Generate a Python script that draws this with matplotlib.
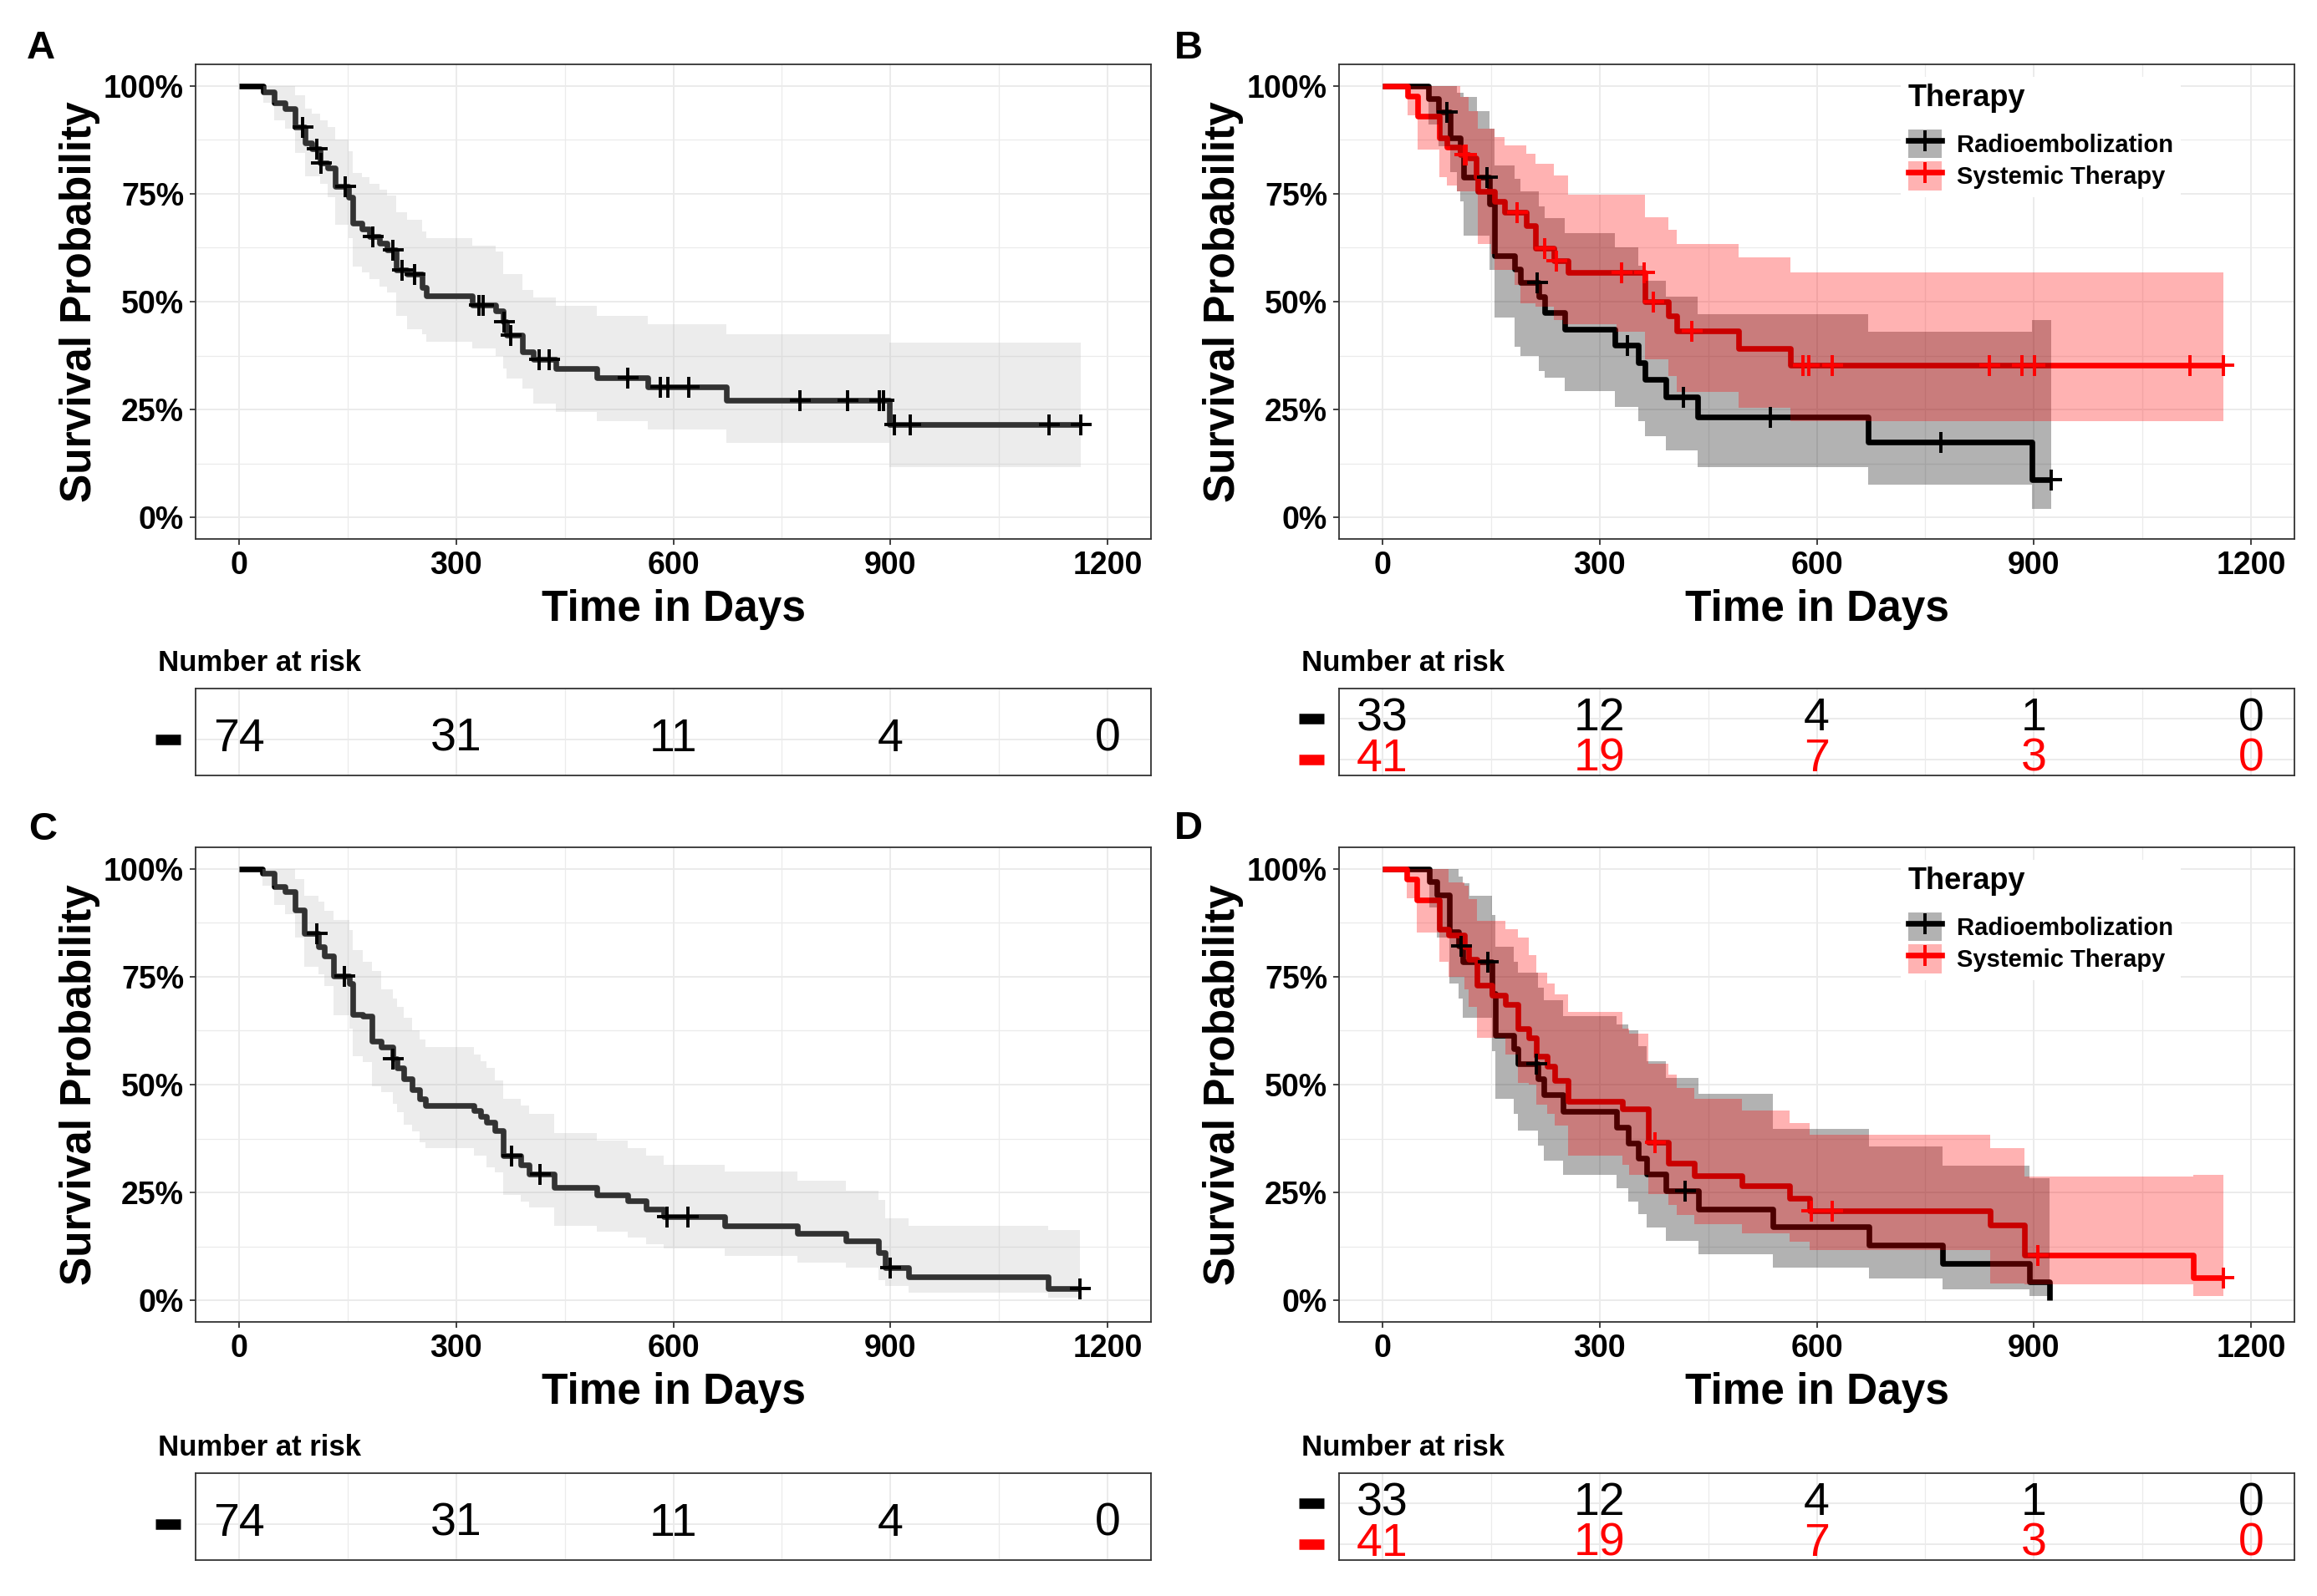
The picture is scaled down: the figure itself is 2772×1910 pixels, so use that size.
import numpy as np
from matplotlib import pyplot as plt
from matplotlib.lines import Line2D
from matplotlib.patches import Patch
from matplotlib.transforms import blended_transform_factory

plt.rcParams['font.family'] = ['Liberation Sans', 'DejaVu Sans']

# ---- panel A: all patients (overall survival) ----
a_time = [0, 33, 48, 63, 78, 91, 101, 112, 122, 133, 151, 157, 170, 180, 194, 204, 217, 232, 253, 259,
          322, 355, 365, 370, 392, 407, 438, 494, 565, 673, 898]
a_surv = [100, 98.6, 96.1, 94.8, 90.4, 86.7, 85.5, 82.1, 80.9, 76.7, 74.2, 68.3, 66.9, 65.1, 63.6, 62.1,
          57.4, 56.3, 53.2, 51.3, 49.3, 47.9, 45.4, 42.3, 38.4, 36.7, 34.6, 32.4, 30.3, 27.2, 21.6]
a_upper = [100, 100, 100, 100, 97.8, 94.8, 93.5, 92.0, 90.4, 87.6, 84.8, 79.8, 78.8, 77.4, 76.0, 74.6,
           70.7, 68.9, 66.2, 64.7, 63.0, 61.6, 56.3, 56.3, 52.8, 50.9, 49.1, 46.8, 44.7, 42.4, 40.5]
a_lower = [100, 96.1, 92.0, 90.0, 84.4, 79.1, 79.1, 77.4, 74.2, 67.9, 64.7, 58.1, 56.7, 55.3, 53.4, 52.1,
           46.8, 43.7, 42.4, 40.7, 39.1, 37.4, 34.6, 32.1, 29.8, 26.3, 24.5, 22.3, 20.3, 17.3, 11.7]
a_end = 1163
a_censor = [88, 107, 113, 147, 185, 213, 225, 242, 331, 337, 366, 375, 415, 428, 537, 582, 592, 621,
            775, 841, 885, 890, 905, 927, 1119, 1163]

# ---- panel C: all patients (second endpoint) ----
c_time = [0, 32, 49, 63, 78, 90, 110, 118, 131, 152, 157, 171, 184, 196, 213, 218, 228, 239, 249, 258,
          325, 334, 342, 353, 365, 389, 401, 435, 494, 537, 562, 587, 671, 772, 839, 883, 893, 925, 1118]
c_surv = [100, 98.9, 95.9, 94.7, 90.5, 85.1, 81.9, 79.8, 75.2, 73.5, 66.3, 65.8, 60.1, 58.8, 56.0, 53.8,
          51.4, 48.9, 46.8, 45.2, 44.0, 42.6, 41.2, 39.4, 33.5, 31.4, 29.3, 26.1, 24.4, 23.0, 21.2, 19.4,
          17.3, 15.6, 13.8, 11.0, 7.5, 5.4, 2.8]
c_upper = [100, 100, 100, 100, 97.7, 93.8, 92.4, 90.3, 88.2, 85.8, 81.2, 78.5, 76.3, 72.1, 70.0, 68.0,
           65.5, 62.6, 60.5, 58.7, 57.0, 55.5, 53.8, 51.0, 46.8, 45.1, 43.3, 38.7, 37.0, 35.2, 33.5, 31.5,
           29.8, 27.7, 25.5, 23.3, 19.1, 17.3, 16.3]
c_lower = [100, 96.1, 91.7, 89.6, 84.0, 77.3, 75.6, 72.8, 66.1, 62.9, 56.6, 55.2, 49.6, 48.2, 45.5, 43.6,
           40.8, 39.1, 36.6, 35.2, 33.5, 33.5, 30.8, 29.6, 24.4, 22.8, 21.5, 17.3, 15.9, 14.5, 13.1, 12.1,
           10.3, 8.8, 7.5, 4.7, 3.3, 1.8, 0.7]
c_end = 1162
c_censor = [108, 146, 213, 376, 416, 591, 620, 900, 1162]

# ---- panel B: by therapy ----
b_re_time = [0, 64, 77, 94, 103, 108, 112, 131, 148, 155, 182, 191, 216, 224, 252, 321, 353, 363, 391,
             435, 671, 897]
b_re_surv = [100, 97.0, 93.9, 87.9, 87.9, 84.8, 78.8, 78.8, 72.7, 60.6, 57.6, 54.5, 51.2, 47.5, 43.7,
             40.0, 35.9, 31.9, 27.9, 23.3, 17.5, 8.7]
b_re_upper = [100, 100, 100, 100, 98.5, 98.5, 97.4, 94.2, 90.0, 81.6, 78.4, 75.6, 72.1, 69.3, 65.8,
              62.6, 58.4, 54.9, 51.1, 47.0, 43.0, 45.8]
b_re_lower = [100, 91.0, 86.0, 80.0, 75.6, 73.2, 65.3, 65.3, 57.4, 46.3, 39.5, 37.5, 34.0, 32.4, 29.3,
              25.6, 22.4, 18.9, 15.6, 11.7, 7.5, 2.0]
b_re_end = 924
b_re_censor = [89, 144, 214, 338, 416, 536, 772, 924]

b_st_time = [0, 35, 49, 79, 89, 103, 108, 119, 129, 132, 150, 155, 169, 182, 191, 199, 211, 237, 250,
             256, 323, 363, 395, 406, 492, 564]
b_st_surv = [100, 97.6, 93.0, 87.9, 85.8, 85.8, 84.0, 83.4, 78.8, 75.6, 75.6, 73.2, 70.7, 70.7, 70.7,
             67.6, 62.3, 59.5, 59.5, 56.7, 56.7, 50.0, 46.8, 43.3, 39.1, 35.2]
b_st_upper = [100, 100, 100, 100, 100, 100, 97.4, 94.2, 94.2, 90.0, 90.0, 88.1, 86.2, 86.2, 86.2, 84.2,
              81.9, 79.3, 79.3, 74.8, 74.8, 69.5, 66.6, 63.3, 60.2, 56.7]
b_st_lower = [100, 93.2, 85.3, 78.8, 77.0, 75.6, 75.6, 75.6, 75.6, 63.3, 61.0, 57.4, 57.4, 53.9, 49.6,
              49.6, 48.9, 45.8, 44.7, 44.7, 43.0, 36.7, 32.8, 29.1, 25.4, 22.3]
b_st_end = 1162
b_st_censor = [113, 116, 186, 224, 240, 330, 361, 374, 427, 581, 589, 621, 838, 883, 901, 1116, 1162]

# ---- panel D: by therapy (second endpoint) ----
d_re_time = [0, 65, 75, 93, 105, 111, 120, 151, 156, 181, 187, 215, 223, 249, 323, 340, 353, 365, 391,
             437, 539, 672, 774, 894, 922]
d_re_surv = [100, 97.0, 93.9, 85.5, 82.2, 78.4, 78.4, 71.2, 61.5, 58.4, 54.9, 51.4, 47.6, 43.8, 40.1,
             36.5, 32.9, 29.3, 25.4, 21.2, 17.0, 12.8, 8.5, 4.3, 0.0]
d_re_upper = [100, 100, 100, 100, 98.2, 96.6, 93.8, 89.3, 82.0, 78.5, 76.0, 72.5, 69.5, 65.8, 64.0,
              62.6, 58.9, 55.5, 51.5, 47.9, 39.8, 35.6, 31.2, 28.4, 28.4]
d_re_lower = [100, 91.0, 84.0, 73.5, 70.0, 65.4, 65.4, 57.7, 46.8, 43.3, 39.4, 35.9, 32.4, 29.1, 25.9,
              22.8, 20.0, 16.8, 13.8, 10.7, 7.5, 5.1, 2.5, 1.1, 1.1]
d_re_end = 922
d_re_censor = [109, 145, 213, 418]

d_st_time = [0, 33, 47, 79, 91, 113, 119, 130, 151, 170, 187, 202, 213, 228, 238, 257, 331, 341, 367,
             395, 406, 431, 497, 562, 590, 840, 887, 1120]
d_st_surv = [100, 97.6, 92.8, 86.1, 84.7, 81.9, 79.1, 73.1, 70.7, 68.6, 62.9, 60.8, 56.6, 54.2, 51.0,
             46.1, 44.4, 44.4, 36.6, 31.7, 31.7, 28.8, 26.5, 23.6, 20.8, 17.5, 10.4, 5.2]
d_st_upper = [100, 100, 100, 100, 96.8, 96.0, 93.0, 87.9, 87.9, 86.1, 84.0, 80.1, 75.9, 73.5, 71.0,
              66.8, 63.0, 61.8, 54.9, 52.3, 49.3, 46.8, 44.0, 41.1, 38.4, 35.2, 28.7, 29.1]
d_st_lower = [100, 93.1, 85.2, 78.4, 75.0, 72.0, 68.0, 60.8, 60.8, 57.0, 50.3, 50.0, 45.4, 43.3, 40.5,
              33.5, 31.4, 29.0, 24.7, 22.2, 19.8, 17.7, 15.6, 13.5, 11.7, 4.0, 3.8, 1.0]
d_st_end = 1162
d_st_censor = [376, 592, 621, 905, 1162]

# ---- number at risk ----
risk_times = [0, 300, 600, 900, 1200]
risk_all = [74, 31, 11, 4, 0]
risk_re = [33, 12, 4, 1, 0]
risk_st = [41, 19, 7, 3, 0]

group_labels = ['Radioembolization', 'Systemic Therapy']

W, H = 2772, 1910
LEFT_X, RIGHT_X = 234, 1602
PLOT_W = 1143
GRID = '#ebebeb'
BORDER = '#333333'
LW = 4.8


def box(x0: float, y0: float, w: float, h: float) -> list:
    """pixel box (top-left origin) -> figure fraction rect"""
    return [x0 / W, 1 - (y0 + h) / H, w / W, h / H]


def style_axes(ax) -> None:
    ax.set_xlim(-60, 1260)
    ax.set_xticks(risk_times)
    ax.set_xticks([150, 450, 750, 1050], minor=True)
    ax.grid(True, which='major', color=GRID, lw=1.4, zorder=0)
    ax.grid(True, which='minor', color=GRID, lw=0.9, zorder=0)
    ax.set_axisbelow(True)
    for sp in ax.spines.values():
        sp.set_color(BORDER)
        sp.set_linewidth(1.3)


def draw_curve(ax, t, s, lo, hi, end, censor, line_c, fill_c, fill_a, mark_c) -> None:
    x = list(t) + [end]
    y = list(s) + [s[-1]]
    ax.step(x, y, where='post', color=line_c, lw=LW, zorder=3, solid_capstyle='butt')
    ax.fill_between(x, list(lo) + [lo[-1]], list(hi) + [hi[-1]], step='post',
                    color=fill_c, alpha=fill_a, lw=0, zorder=4)
    idx = np.searchsorted(t, censor, side='right') - 1
    ax.plot(censor, np.array(s)[idx], ls='none', marker='+', ms=18, mew=2.8,
            color=mark_c, zorder=5)


def km_axes(fig, x0: float, y0: float):
    ax = fig.add_axes(box(x0, y0, PLOT_W, 568))
    style_axes(ax)
    ax.set_ylim(-5, 105)
    ax.set_yticks([0, 25, 50, 75, 100])
    ax.set_yticks([12.5, 37.5, 62.5, 87.5], minor=True)
    ax.set_yticklabels([f'{v}%' for v in [0, 25, 50, 75, 100]])
    ax.tick_params(which='major', direction='out', length=5, width=1.3, color=BORDER,
                   labelsize=27, pad=5)
    ax.tick_params(which='minor', length=0)
    for lab in ax.get_xticklabels() + ax.get_yticklabels():
        lab.set_fontweight('bold')
    ax.set_xlabel('Time in Days', fontsize=37, fontweight='bold', labelpad=7)
    ax.set_ylabel('Survival Probability', fontsize=37, fontweight='bold', labelpad=3)
    return ax


def risk_table(fig, x0: float, y0: float, rows, colors) -> None:
    ax = fig.add_axes(box(x0, y0, PLOT_W, 104))
    style_axes(ax)
    n = len(rows)
    if n > 1:
        ax.set_ylim(0.6, 2.75)
    else:
        ax.set_ylim(0.54, 1.64)
    ax.set_yticks(range(1, n + 1))
    ax.tick_params(which='both', length=0, labelbottom=False, labelleft=False)
    trans = blended_transform_factory(ax.transAxes, ax.transData)
    for i, (vals, col) in enumerate(zip(rows, colors)):
        yy = n - i
        for tx, v in zip(risk_times, vals):
            ax.text(tx, yy, str(v), color=col, fontsize=40, ha='center', va='center')
        ax.plot([-0.042, -0.016], [yy, yy], color=col, lw=9, transform=trans,
                clip_on=False, solid_capstyle='butt')
    fig.text((x0 - 45) / W, 1 - (y0 - 31) / H, 'Number at risk', fontsize=25,
             fontweight='bold', ha='left', va='center')


def add_legend(ax) -> None:
    handles = [
        (Patch(facecolor='black', alpha=0.3, lw=0),
         Line2D([], [], color='black', lw=LW, marker='+', ms=18, mew=2.8)),
        (Patch(facecolor='red', alpha=0.3, lw=0),
         Line2D([], [], color='red', lw=LW, marker='+', ms=18, mew=2.8)),
    ]
    leg = ax.legend(handles, group_labels, title='Therapy', loc='upper left',
                    bbox_to_anchor=(0.575, 1.0), frameon=True, fancybox=False,
                    edgecolor='none', facecolor='white', framealpha=1,
                    prop={'size': 21, 'weight': 'bold'}, handlelength=1.4,
                    handleheight=1.45, handletextpad=0.6, labelspacing=0.12,
                    borderpad=0.3)
    leg.get_title().set_fontsize(26)
    leg.get_title().set_fontweight('bold')
    leg._legend_box.align = 'left'
    leg._legend_box.sep = 14
    leg.set_zorder(10)


fig = plt.figure(figsize=(W / 100, H / 100), dpi=100)

ax_a = km_axes(fig, LEFT_X, 77)
draw_curve(ax_a, a_time, a_surv, a_lower, a_upper, a_end, a_censor,
           'black', '#b9b9b9', 0.27, 'black')
risk_table(fig, LEFT_X, 824, [risk_all], ['black'])

ax_b = km_axes(fig, RIGHT_X, 77)
draw_curve(ax_b, b_re_time, b_re_surv, b_re_lower, b_re_upper, b_re_end, b_re_censor,
           'black', 'black', 0.3, 'black')
draw_curve(ax_b, b_st_time, b_st_surv, b_st_lower, b_st_upper, b_st_end, b_st_censor,
           'red', 'red', 0.3, 'red')
add_legend(ax_b)
risk_table(fig, RIGHT_X, 824, [risk_re, risk_st], ['black', 'red'])

ax_c = km_axes(fig, LEFT_X, 1014)
draw_curve(ax_c, c_time, c_surv, c_lower, c_upper, c_end, c_censor,
           'black', '#b9b9b9', 0.27, 'black')
risk_table(fig, LEFT_X, 1763, [risk_all], ['black'])

ax_d = km_axes(fig, RIGHT_X, 1014)
draw_curve(ax_d, d_re_time, d_re_surv, d_re_lower, d_re_upper, d_re_end, d_re_censor,
           'black', 'black', 0.3, 'black')
draw_curve(ax_d, d_st_time, d_st_surv, d_st_lower, d_st_upper, d_st_end, d_st_censor,
           'red', 'red', 0.3, 'red')
add_legend(ax_d)
risk_table(fig, RIGHT_X, 1763, [risk_re, risk_st], ['black', 'red'])

for letter, px, py in [('A', 49, 58), ('B', 1422, 58), ('C', 51, 993), ('D', 1422, 992)]:
    fig.text(px / W, 1 - py / H, letter, fontsize=34, fontweight='bold', ha='center', va='center')

fig.savefig('out.png', dpi=100, facecolor='white')
